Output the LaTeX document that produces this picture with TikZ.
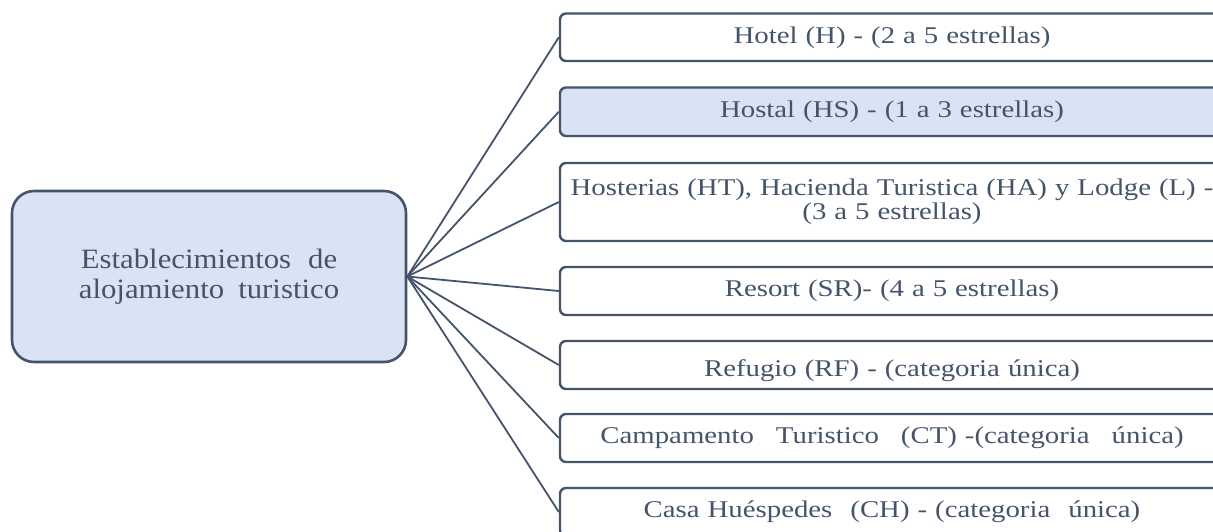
\documentclass[tikz,border=0pt]{standalone}
\usepackage{fontspec}
\setmainfont{Liberation Serif}[FakeStretch=1.2]
\newfontfamily\mainfnt{Liberation Serif}[FakeStretch=1.1]
\definecolor{dk}{HTML}{44546A}
\definecolor{lb}{HTML}{DAE3F3}
\begin{document}
\begin{tikzpicture}[x=1pt,y=-1pt,
  mainbox/.style={draw=dk, line width=2.6pt, fill=lb, rounded corners=22pt,
    minimum width=394pt, minimum height=171pt, inner sep=0pt,
    text width=380pt, align=center,
    font=\mainfnt\fontsize{28}{30}\selectfont, text=dk},
  rbox/.style={draw=dk, line width=2.4pt, fill=white, rounded corners=6pt,
    minimum width=664pt, inner sep=0pt, text width=650pt, align=center,
    font=\fontsize{24}{24}\selectfont, text=dk},
  conn/.style={draw=dk, line width=1.8pt}]
\useasboundingbox (0,0) rectangle (1213,531);
\node[mainbox] (m) at (209,276.5) {Establecimientos\hspace{17pt}de\\alojamiento\hspace{14pt}turistico};
\node[rbox, minimum height=47.5pt] (b1) at (892,37.25) {Hotel (H) - (2 a 5 estrellas)};
\node[rbox, minimum height=48.5pt, fill=lb] (b2) at (892,111.75) {Hostal (HS) - (1 a 3 estrellas)};
\node[rbox, minimum height=78pt] (b3) at (892,202) {Hosterias (HT), Hacienda Turistica (HA) y Lodge (L) -\\(3 a 5 estrellas)};
\node[rbox, minimum height=48pt] (b4) at (892,291) {Resort (SR)- (4 a 5 estrellas)};
\node[rbox, minimum height=48pt] (b5) at (892,365) {\raisebox{-6pt}[\height][\depth]{Refugio (RF) - (categoria única)}};
\node[rbox, minimum height=48pt] (b6) at (892,438) {Campamento\hspace{22pt}Turistico\hspace{22pt}(CT) -(categoria\hspace{22pt}única)};
\node[rbox, minimum height=48pt] (b7) at (892,512) {Casa Huéspedes\hspace{18pt}(CH) - (categoria\hspace{18pt}única)};
\foreach \b in {b1,b2,b3,b4,b5,b6,b7}
  \draw[conn] (m.east) -- (\b.west);
\end{tikzpicture}
\end{document}
